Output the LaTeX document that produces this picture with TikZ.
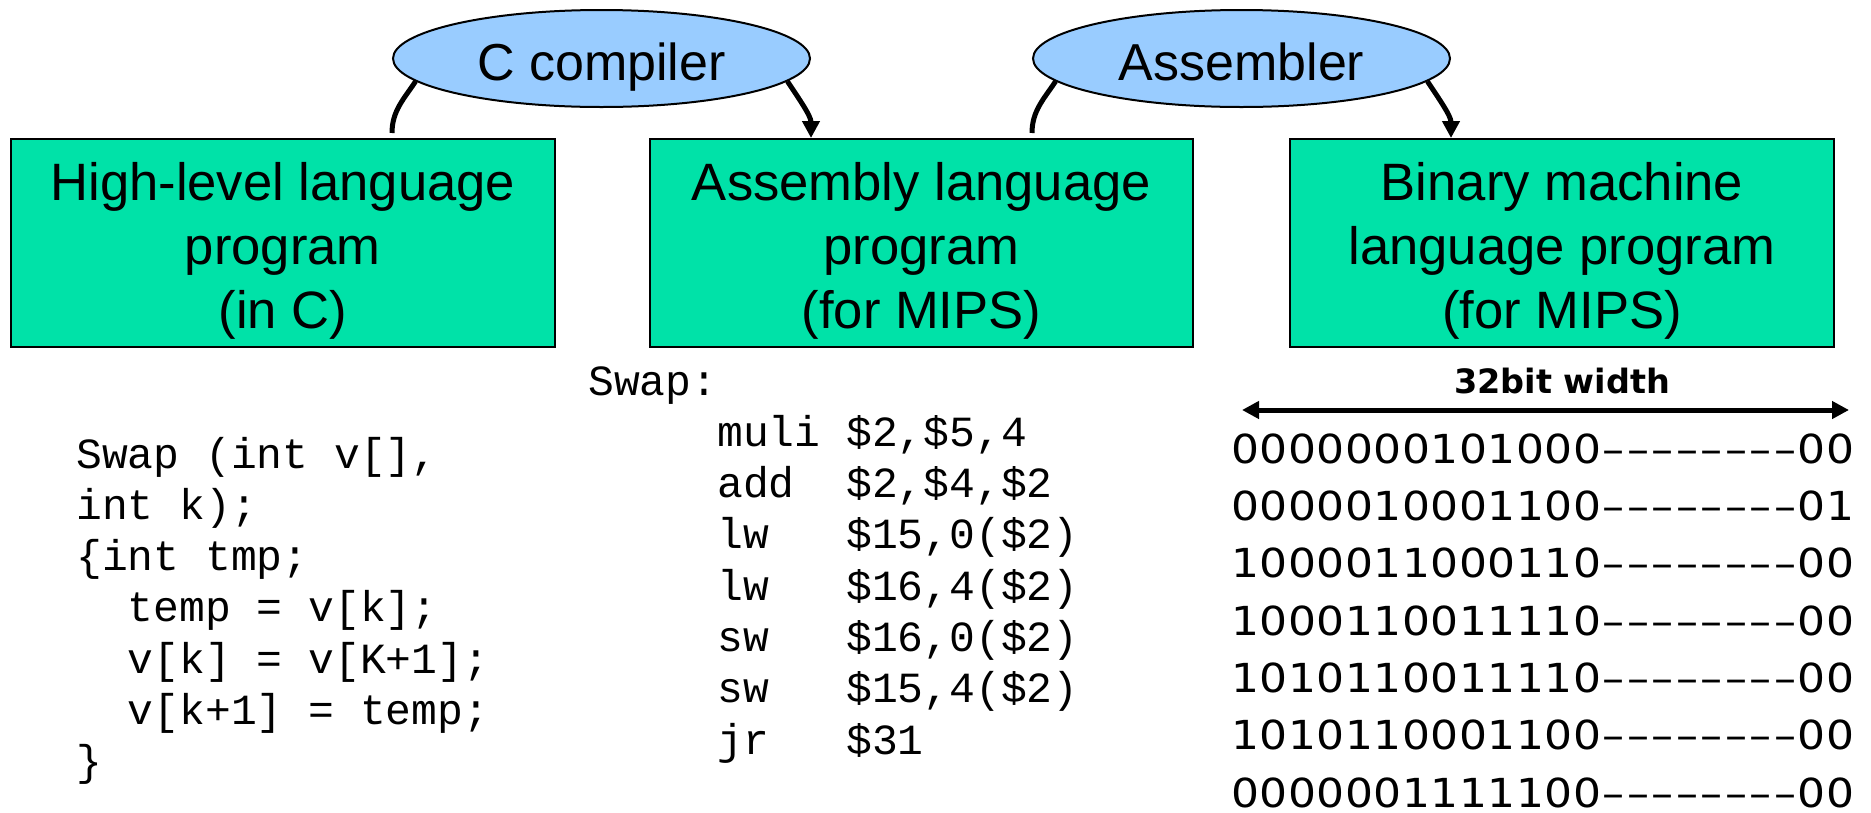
\documentclass[tikz,border=0pt]{standalone}
\usepackage{fontspec}
\setmainfont{Liberation Sans}
\setmonofont{Liberation Mono}
\newfontfamily\binfont[FakeStretch=1.1]{DejaVu Sans}
\newfontfamily\lblfont{DejaVu Sans}
\usetikzlibrary{shapes.geometric,arrows.meta}
\definecolor{boxgreen}{RGB}{0,226,168}
\definecolor{ellblue}{RGB}{153,204,255}
\def\bitrow#1{\expandafter\bitloop#1\relax}
\def\bitloop#1{\ifx#1\relax\else\bitchar{#1}\expandafter\bitloop\fi}
\def\bitchar#1{\if-#1\makebox[24.5pt]{\textendash}\else\makebox[28.5pt]{#1}\fi}
\tikzset{
  prog/.style={draw=black, line width=2pt, fill=boxgreen, minimum width=544pt, minimum height=208pt, inner sep=0pt},
  tool/.style={ellipse, draw=black, line width=2pt, fill=ellblue, minimum width=417pt, minimum height=97pt, inner sep=0pt, font=\fontsize{52}{60}\selectfont, text height=44pt, text depth=0pt},
  boxline/.style={anchor=base, inner sep=0pt, font=\fontsize{52.6}{64}\selectfont},
  code/.style={anchor=base west, inner sep=0pt, font=\fontsize{43}{51}\selectfont\ttfamily\frenchspacing},
  bits/.style={anchor=base west, inner sep=0pt, font=\fontsize{40}{57}\selectfont\binfont},
  wlabel/.style={anchor=base, inner sep=0pt, font=\fontsize{33.5}{40}\selectfont\lblfont\bfseries},
  curve/.style={line width=5pt},
  flow/.style={line width=5pt, -{Triangle[length=17pt,width=17pt]}},
  both/.style={line width=5pt, {Triangle[length=17pt,width=17pt]}-{Triangle[length=17pt,width=17pt]}},
}
\begin{document}
\begin{tikzpicture}[x=1pt,y=-1pt]
\useasboundingbox (0,0) rectangle (1871,812);

% program boxes
\node[prog] (b1) at (282.85,243) {};
\node[prog, minimum width=543pt] (b2) at (921.5,243) {};
\node[prog] (b3) at (1562,243) {};

% box texts
\foreach \t [count=\i from 0] in {High-level language, program, (in C)}
  \node[boxline] (t1\i) at (282.85,{200+64*\i}) {\t};
\foreach \t [count=\i from 0] in {Assembly language, program, (for MIPS)}
  \node[boxline] (t2\i) at (921.5,{200+64*\i}) {\t};
\foreach \t [count=\i from 0] in {Binary machine, language program, (for MIPS)}
  \node[boxline] (t3\i) at (1562,{200+64*\i}) {\t};

% tools
\node[tool] (cc) at (601.5,58.5) {C compiler};
\node[tool] (as) at (1241.5,58.5) {Assembler};

% connectors
\draw[curve] (cc.187) .. controls +(-12,18) and +(0,-22) .. ([yshift=5pt]cc.west |- b1.north);
\draw[flow] (cc.353) .. controls +(12,18) and +(0,-22) .. (cc.east |- b2.north);
\draw[curve] (as.187) .. controls +(-12,18) and +(0,-22) .. ([yshift=5pt]as.west |- b2.north);
\draw[flow] (as.353) .. controls +(12,18) and +(0,-22) .. (as.east |- b3.north);

% C code
\foreach \t [count=\i from 0] in {{Swap~(int~v[],}, {int~k);}, {\{int~tmp;}, {~~temp~=~v[k];}, {~~v[k]~=~v[K+1];}, {~~v[k+1]~=~temp;}, {\}}}
  \node[code] (c\i) at (76,{468+51.3*\i}) {\t};

% assembly code
\foreach \t [count=\i from 0] in {{Swap:}, {~~~~~muli~\$2,\$5,4}, {~~~~~add~~\$2,\$4,\$2}, {~~~~~lw~~~\$15,0(\$2)}, {~~~~~lw~~~\$16,4(\$2)}, {~~~~~sw~~~\$16,0(\$2)}, {~~~~~sw~~~\$15,4(\$2)}, {~~~~~jr~~~\$31}}
  \node[code] (a\i) at (588,{395+51.3*\i}) {\t};

% width label and arrow
\node[wlabel] (wl) at (1562,393) {32bit width};
\coordinate (wa) at (1242,410);
\coordinate (wb) at (1849,410);
\draw[both] (wa) -- (wb);

% binary rows
\foreach \bitstr [count=\i from 0] in {0000000101000--------00, 0000010001100--------01, 1000011000110--------00, 1000110011110--------00, 1010110011110--------00, 1010110001100--------00, 0000001111100--------00}
  \node[bits] (r\i) at (1231,{463.3+57.3*\i}) {\bitrow{\bitstr}};
\end{tikzpicture}
\end{document}
